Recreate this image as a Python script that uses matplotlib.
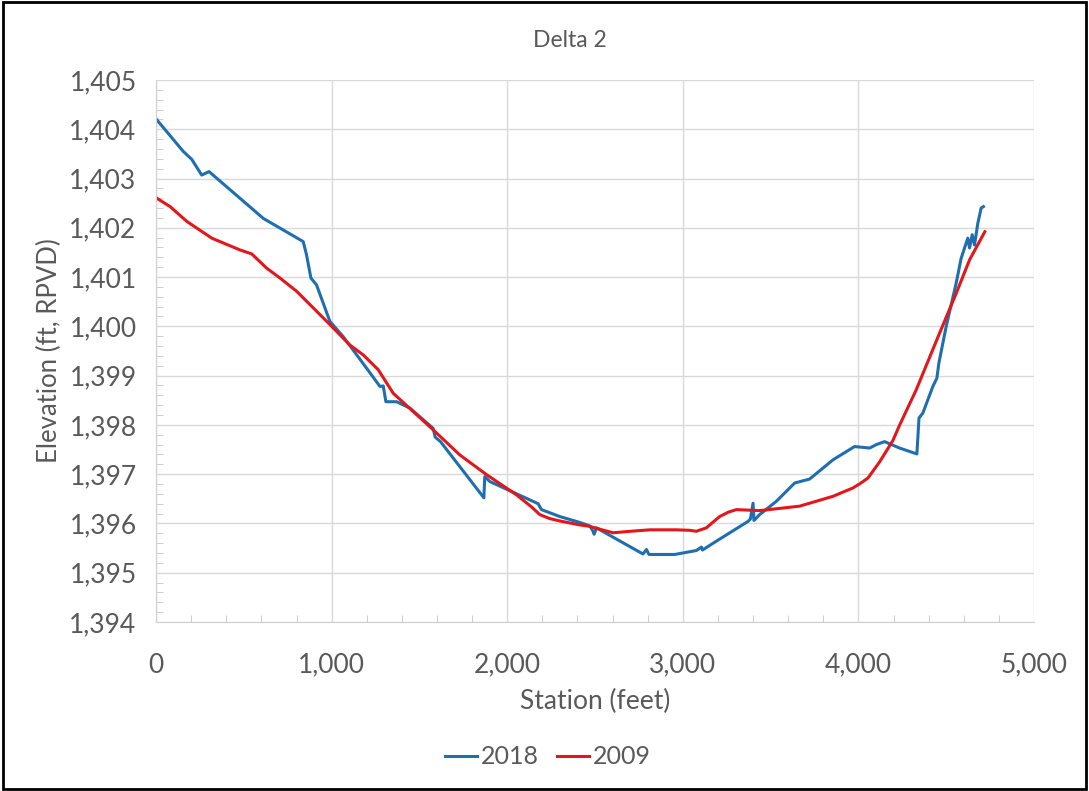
import matplotlib
matplotlib.use('Agg')
import matplotlib.pyplot as plt
from matplotlib.ticker import MultipleLocator, FuncFormatter
from matplotlib.patches import Rectangle

# profil 2018
station_2018 = [0, 155, 203, 260, 302, 611, 838, 857, 882, 914, 990, 1066, 1199,
                1275, 1294, 1309, 1370, 1446, 1578, 1590, 1620, 1867, 1872, 1901,
                2176, 2195, 2299, 2413, 2470, 2489, 2495, 2508, 2773, 2793, 2807,
                2954, 3077, 3106, 3112, 3191, 3371, 3385, 3400, 3405, 3438, 3533,
                3637, 3722, 3855, 3978, 4064, 4102, 4149, 4234, 4333, 4345, 4367,
                4424, 4447, 4458, 4500, 4557, 4585, 4623, 4633, 4648, 4661, 4680,
                4699, 4712]
elev_2018 = [1404.21, 1403.55, 1403.39, 1403.07, 1403.14, 1402.19, 1401.72, 1401.45,
             1400.98, 1400.84, 1400.10, 1399.79, 1399.15, 1398.78, 1398.79, 1398.47,
             1398.47, 1398.34, 1397.93, 1397.75, 1397.66, 1396.52, 1396.95, 1396.85,
             1396.40, 1396.28, 1396.14, 1396.02, 1395.95, 1395.84, 1395.78, 1395.91,
             1395.38, 1395.47, 1395.37, 1395.37, 1395.45, 1395.52, 1395.46, 1395.64,
             1396.04, 1396.09, 1396.41, 1396.06, 1396.18, 1396.45, 1396.82, 1396.90,
             1397.29, 1397.56, 1397.53, 1397.60, 1397.66, 1397.53, 1397.41, 1398.14,
             1398.24, 1398.78, 1398.95, 1399.25, 1400.00, 1400.88, 1401.38, 1401.79,
             1401.59, 1401.86, 1401.65, 1402.09, 1402.40, 1402.43]

# profil 2009
station_2009 = [0, 80, 175, 317, 478, 545, 630, 706, 801, 1000, 1104, 1180, 1265,
                1351, 1578, 1730, 1882, 2053, 2140, 2185, 2240, 2299, 2413, 2470,
                2540, 2603, 2700, 2812, 2963, 3040, 3077, 3134, 3170, 3210, 3260,
                3305, 3438, 3665, 3855, 3969, 4010, 4054, 4121, 4196, 4234, 4329,
                4462, 4557, 4633, 4720]
elev_2009 = [1402.61, 1402.43, 1402.13, 1401.79, 1401.55, 1401.47, 1401.18, 1400.98,
             1400.71, 1400.00, 1399.62, 1399.42, 1399.12, 1398.64, 1397.90, 1397.39,
             1396.99, 1396.58, 1396.33, 1396.18, 1396.10, 1396.05, 1395.97, 1395.94,
             1395.87, 1395.81, 1395.84, 1395.87, 1395.87, 1395.86, 1395.84, 1395.91,
             1396.02, 1396.14, 1396.23, 1396.28, 1396.26, 1396.35, 1396.55, 1396.72,
             1396.81, 1396.92, 1397.25, 1397.68, 1397.99, 1398.71, 1399.86, 1400.67,
             1401.35, 1401.92]

gris = '#595959'
plt.rcParams['font.family'] = ['Lato', 'DejaVu Sans']

fig = plt.figure(figsize=(10.89, 7.91), dpi=100)
ax = fig.add_axes([0.1433, 0.2137, 0.8062, 0.6852])

ax.plot(station_2018, elev_2018, color='#1f6fb0', lw=2.2, label='2018')
ax.plot(station_2009, elev_2009, color='#e3171b', lw=2.2, label='2009')

ax.set_xlim(0, 5000)
ax.set_ylim(1394, 1405)
ax.xaxis.set_major_locator(MultipleLocator(1000))
ax.xaxis.set_minor_locator(MultipleLocator(200))
ax.yaxis.set_major_locator(MultipleLocator(1))
ax.yaxis.set_minor_locator(MultipleLocator(0.2))
fmt = FuncFormatter(lambda v, p: '{:,.0f}'.format(v))
ax.xaxis.set_major_formatter(fmt)
ax.yaxis.set_major_formatter(fmt)

ax.grid(True, which='major', color='#d9d9d9', lw=1)
ax.set_axisbelow(True)
for s in ['top', 'right']:
    ax.spines[s].set_visible(False)
for s in ['left', 'bottom']:
    ax.spines[s].set_color('#d0d0d0')

ax.tick_params(which='major', length=0, labelsize=19, labelcolor=gris)
ax.tick_params(axis='x', which='major', pad=22)
ax.tick_params(axis='y', which='major', pad=14)
ax.tick_params(which='minor', direction='in', length=5, color='#c8c8c8')

ax.set_xlabel('Station (feet)', fontsize=19, color=gris, labelpad=8)
ax.set_ylabel('Elevation (ft, RPVD)', fontsize=18.5, color=gris, labelpad=5)
fig.text(0.5233, 0.949, 'Delta 2', fontsize=16.5, color=gris, ha='center', va='center')

leg = fig.legend(loc='center', bbox_to_anchor=(0.503, 0.043), ncol=2, frameon=False,
                 fontsize=18, handlelength=1.3, handletextpad=0.15, columnspacing=0.7)
for t in leg.get_texts():
    t.set_color(gris)

# cadre noir autour de la figure
fig.patches.append(Rectangle((0.003, 0.003), 0.994, 0.994, transform=fig.transFigure,
                             fill=False, edgecolor='black', lw=2))

fig.savefig('out.png', dpi=100)
